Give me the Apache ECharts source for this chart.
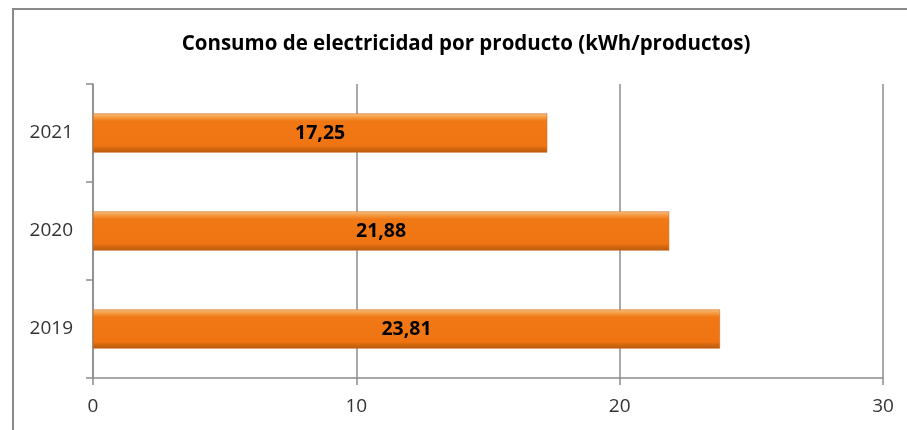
<!DOCTYPE html>
<html>
<head>
<meta charset="utf-8">
<script src="https://cdn.jsdelivr.net/npm/echarts@6/dist/echarts.min.js"></script>
<style>
html,body{margin:0;padding:0;background:#fff;}
#c{width:907px;height:430px;}
</style>
</head>
<body>
<div id="c"></div>
<script>
const titleText = 'Consumo de electricidad por producto (kWh/productos)';
const categories = ['2019', '2020', '2021'];
const values = [23.81, 21.88, 17.25];
const xTicks = { min: 0, max: 30, interval: 10 };

const chart = echarts.init(document.getElementById('c'), null, { renderer: 'canvas' });
const font = '"Open Sans", "Noto Sans", sans-serif';
const axisGray = '#8c8c8c';

chart.setOption({
  animation: false,
  backgroundColor: '#ffffff',
  graphic: [{
    type: 'rect',
    shape: { x: 13, y: 9, width: 1000, height: 1000 },
    style: { fill: 'none', stroke: '#8a8a8a', lineWidth: 2 },
    silent: true
  }],
  title: {
    text: titleText,
    left: 461,
    textAlign: 'center',
    top: 29,
    textStyle: { fontFamily: font, fontWeight: 'bold', fontSize: 20.5, color: '#000' }
  },
  grid: { left: 93, right: 24, top: 84, bottom: 52, containLabel: false },
  xAxis: {
    type: 'value',
    min: xTicks.min, max: xTicks.max, interval: xTicks.interval,
    axisLine: { show: true, lineStyle: { color: axisGray, width: 1.5 } },
    axisTick: { show: true, length: 7, lineStyle: { color: axisGray, width: 1.5 } },
    splitLine: { show: true, lineStyle: { color: axisGray, width: 1.5 } },
    axisLabel: { fontFamily: font, fontSize: 19, color: '#333', margin: 19 }
  },
  yAxis: {
    type: 'category',
    data: categories,
    axisLine: { show: true, lineStyle: { color: axisGray, width: 1.5 } },
    axisTick: { show: true, length: 7, lineStyle: { color: axisGray, width: 1.5 } },
    axisLabel: { fontFamily: font, fontSize: 19, color: '#333', margin: 20 }
  },
  series: [{
    type: 'bar',
    data: values,
    barWidth: '40%',
    itemStyle: {
      color: new echarts.graphic.LinearGradient(0, 0, 0, 1, [
        { offset: 0, color: '#f8bd7c' },
        { offset: 0.08, color: '#f6a04a' },
        { offset: 0.2, color: '#f07815' },
        { offset: 0.82, color: '#f07512' },
        { offset: 0.9, color: '#d4680f' },
        { offset: 1, color: '#b8590c' }
      ]),
      borderColor: '#c8651a',
      borderWidth: 0.5
    },
    label: {
      show: true,
      position: 'inside',
      formatter: p => p.value.toFixed(2).replace('.', ','),
      fontFamily: font,
      fontWeight: 'bold',
      fontSize: 19.5,
      color: '#000'
    }
  }]
});
</script>
</body>
</html>
